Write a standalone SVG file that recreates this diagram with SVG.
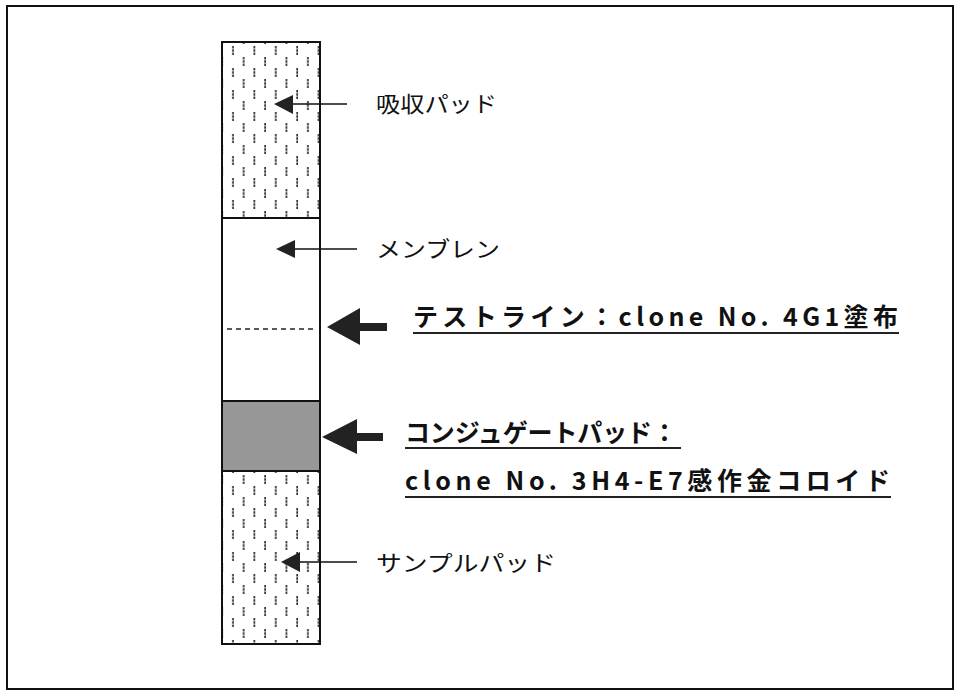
<svg xmlns="http://www.w3.org/2000/svg" width="956" height="691" viewBox="0 0 956 691">
<style>
.lbl{font-family:"Noto Sans CJK JP","Liberation Sans",sans-serif;font-size:22px;fill:#111}
.bold{font-family:"Noto Sans CJK JP","Liberation Sans",sans-serif;font-size:25px;font-weight:bold;fill:#111}
.seg{stroke:#111;stroke-width:2}
.ul{stroke:#222;stroke-width:2}
.thin{stroke:#111;stroke-width:1.6;fill:none}
.head{fill:#222}
</style>
<defs>
<pattern id="dash" x="228" y="44" width="21.4" height="22" patternUnits="userSpaceOnUse">
<line x1="5" y1="2" x2="5" y2="11" stroke="#222" stroke-width="1.6" stroke-dasharray="2.5 0.8"/>
<line x1="15.7" y1="13" x2="15.7" y2="22" stroke="#222" stroke-width="1.6" stroke-dasharray="2.5 0.8"/>
</pattern>
<filter id="grain" x="0" y="0" width="100%" height="100%">
<feTurbulence type="fractalNoise" baseFrequency="0.9" numOctaves="2" seed="3" result="n"/>
<feColorMatrix in="n" type="matrix" values="0 0 0 0 0.55  0 0 0 0 0.55  0 0 0 0 0.55  0 0 0 1.4 -0.45" result="g"/>
<feComposite in="g" in2="SourceGraphic" operator="atop"/>
</filter>
</defs>
<rect x="7" y="6" width="946" height="683" fill="#fff" stroke="#111" stroke-width="2"/>
<g id="absorbent-pad">
<rect class="seg" x="222" y="42" width="98" height="176" fill="url(#dash)"/>
</g>
<g id="membrane">
<rect class="seg" x="222" y="218" width="98" height="183" fill="#fff"/>
<line x1="227" y1="329" x2="316" y2="329" stroke="#222" stroke-width="1.6" stroke-dasharray="5 4"/>
</g>
<g id="conjugate-pad">
<rect class="seg" x="222" y="401" width="98" height="70" fill="#979797"/>
</g>
<g id="sample-pad">
<rect class="seg" x="222" y="471" width="98" height="173" fill="url(#dash)"/>
</g>
<g id="connectors">
<line class="thin" x1="290" y1="104" x2="347" y2="104"/>
<polygon class="head" points="274,104 293,95 293,114"/>
<line class="thin" x1="292" y1="249" x2="357" y2="249"/>
<polygon class="head" points="276,249 295,240 295,258"/>
<rect x="355" y="323" width="32" height="8" fill="#222"/>
<polygon class="head" points="327,327 360,308 360,345"/>
<rect x="352" y="433" width="31" height="8" fill="#222"/>
<polygon class="head" points="322,437 357,419 357,454"/>
<line class="thin" x1="296" y1="562" x2="357" y2="562"/>
<polygon class="head" points="281,562 300,552 300,572"/>
</g>
<g id="label-absorbent">
<text class="lbl" x="376" y="112" textLength="121" lengthAdjust="spacingAndGlyphs">吸収パッド</text>
</g>
<g id="label-membrane">
<text class="lbl" x="376" y="257" textLength="124" lengthAdjust="spacingAndGlyphs">メンブレン</text>
</g>
<g id="label-testline">
<text class="bold" x="413" y="326" textLength="485" lengthAdjust="spacing">テストライン：clone No. 4G1塗布</text>
<line class="ul" x1="413" y1="333" x2="899" y2="333"/>
</g>
<g id="label-conjugate">
<text class="bold" x="405" y="442" textLength="272" lengthAdjust="spacing">コンジュゲートパッド：</text>
<line class="ul" x1="405" y1="448" x2="681" y2="448"/>
<text class="bold" x="405" y="490" textLength="485" lengthAdjust="spacing">clone No. 3H4-E7感作金コロイド</text>
<line class="ul" x1="405" y1="497" x2="891" y2="497"/>
</g>
<g id="label-sample">
<text class="lbl" x="376" y="571" textLength="180" lengthAdjust="spacingAndGlyphs">サンプルパッド</text>
</g>
</svg>
